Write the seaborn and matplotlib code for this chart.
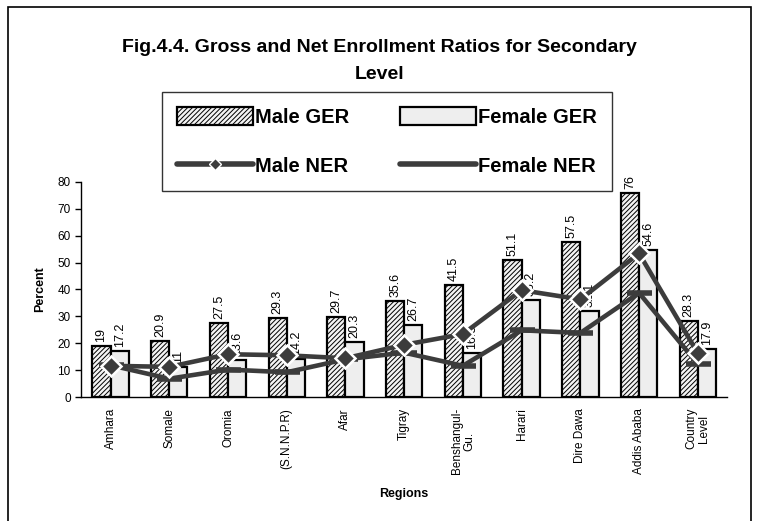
import numpy as np
import pandas as pd
import matplotlib
matplotlib.use("Agg")
import matplotlib.pyplot as plt
from matplotlib.patches import Patch, Rectangle
from matplotlib.lines import Line2D
import seaborn as sns

# Dados
regions = ["Amhara", "Somale", "Oromia", "(S.N.N.P.R)", "Afar", "Tigray",
           "Benshangul-\nGu.", "Harari", "Dire Dawa", "Addis Ababa", "Country\nLevel"]
male_ger = [19, 20.9, 27.5, 29.3, 29.7, 35.6, 41.5, 51.1, 57.5, 76, 28.3]
female_ger = [17.2, 11, 13.6, 14.2, 20.3, 26.7, 16.5, 36.2, 32.1, 54.6, 17.9]
male_ner = [11.6, 11.2, 15.9, 15.5, 14.4, 19.4, 23.4, 39.7, 36.3, 53.4, 16.3]
female_ner = [11.8, 6.8, 10.2, 9.2, 14.0, 16.5, 11.6, 24.8, 23.8, 38.7, 12.3]

sns.set_style("white")
plt.rcParams['font.family'] = ['Liberation Sans', 'DejaVu Sans']
plt.rcParams['hatch.color'] = '#555555'
plt.rcParams['hatch.linewidth'] = 0.7
for k in ['text.color', 'axes.labelcolor', 'xtick.color', 'ytick.color']:
    plt.rcParams[k] = 'black'

line_col = '#3c3c3c'

df = pd.DataFrame({'Region': regions * 2,
                   'Valor': male_ger + female_ger,
                   'Serie': ['Male GER'] * len(regions) + ['Female GER'] * len(regions)})

fig = plt.figure(figsize=(7.59, 5.21), dpi=100)
ax = fig.add_axes([0.107, 0.238, 0.851, 0.413])

sns.barplot(data=df, x='Region', y='Valor', hue='Serie', order=regions,
            hue_order=['Male GER', 'Female GER'], width=0.62, gap=0,
            palette=['white', '#eeeeee'], edgecolor='black', linewidth=1.6,
            legend=False, ax=ax)

n = len(regions)
for i, p in enumerate(ax.patches[:2 * n]):
    if i < n:
        p.set_hatch('///////')
        p.set_facecolor('#f4f4f4')

# Rótulos de dados
for i, p in enumerate(ax.patches[:2 * n]):
    val = male_ger[i] if i < n else female_ger[i - n]
    ax.text(p.get_x() + p.get_width() / 2, p.get_height() + 1.5, str(val),
            rotation=90, ha='center', va='bottom', fontsize=9, zorder=2)

sns.pointplot(x=regions, y=female_ner, order=regions, color=line_col,
              markers='_', linestyles='-', errorbar=None, ax=ax,
              markersize=18, markeredgewidth=4, linewidth=3.3)
sns.pointplot(x=regions, y=male_ner, order=regions, color=line_col,
              markers='D', linestyles='-', errorbar=None, ax=ax,
              markersize=10, markeredgecolor='white', markeredgewidth=1.8,
              linewidth=3.3)
for ln in ax.lines:
    ln.set_zorder(5)

ax.set_ylim(0, 80)
ax.set_xlim(-0.5, n - 0.5)
ax.set_yticks(range(0, 81, 10))
ax.set_xticks(range(n))
ax.set_xticklabels(regions, rotation=90, fontsize=8.5, linespacing=1.0)
ax.set_xticks(np.arange(-0.5, n, 1), minor=True)
ax.tick_params(axis='x', which='major', length=0, pad=8)
ax.tick_params(axis='x', which='minor', length=5, width=1, direction='out', color='black')
ax.tick_params(axis='y', length=4, width=1, direction='out', labelsize=8.5, left=True, color='black')
sns.despine(ax=ax)
for s in ['left', 'bottom']:
    ax.spines[s].set_color('black')
    ax.spines[s].set_linewidth(1)
ax.set_xlabel('Regions', fontweight='bold', fontsize=9, labelpad=10)
ax.set_ylabel('Percent', fontweight='bold', fontsize=9, labelpad=8)

fig.text(0.5, 0.883, 'Fig.4.4. Gross and Net Enrollment Ratios for Secondary\nLevel',
         ha='center', va='center', fontsize=14, fontweight='bold', linespacing=1.75)

# ordem por coluna: col 1 = Male GER / Male NER, col 2 = Female GER / Female NER
handles = [Patch(facecolor='#f4f4f4', edgecolor='black', hatch='///////', linewidth=1.6),
           Line2D([], [], color=line_col, lw=4, marker='D', markersize=6,
                  markeredgecolor='white', markeredgewidth=1),
           Patch(facecolor='#eeeeee', edgecolor='black', linewidth=1.6),
           Line2D([], [], color=line_col, lw=4)]
labels = ['Male GER', 'Male NER', 'Female GER', 'Female NER']
leg = fig.legend(handles, labels, loc='center', bbox_to_anchor=(0.51, 0.728), ncol=2,
                 prop={'weight': 'bold', 'size': 14.5}, frameon=True, fancybox=False,
                 edgecolor='black', handlelength=3.8, handleheight=1.0, handletextpad=0.1,
                 columnspacing=2.5, labelspacing=1.45, borderpad=0.75, borderaxespad=0)
leg.get_frame().set_linewidth(1)

fig.patches.append(Rectangle((0.0105, -0.1), 0.979, 1.0866, transform=fig.transFigure,
                             fill=False, edgecolor='black', linewidth=1.2))

fig.savefig('out.png', dpi=100)
